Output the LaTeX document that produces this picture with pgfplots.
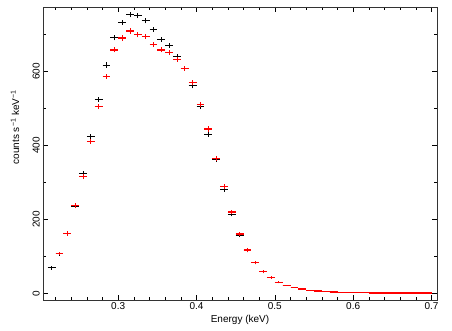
\documentclass[border=0pt]{standalone}
\usepackage{fontspec}
\setmainfont{Liberation Sans}
\usepackage{pgfplots}
\pgfplotsset{compat=1.18}
\usepackage{pgfplotstable}

% black spectrum: bin centre, rate, half bin width, error
\pgfplotstableread{
x y ex ey
0.215 69 0.005 5
0.225 107 0.005 5
0.235 162 0.005 6
0.245 236 0.005 6
0.255 325 0.005 7
0.265 424 0.005 7
0.275 525 0.005 7
0.285 617 0.005 7
0.295 691 0.005 7
0.305 733 0.005 7
0.315 753 0.005 7
0.325 751 0.005 7
0.335 737 0.005 7
0.345 714 0.005 7
0.355 687 0.005 7
0.365 670 0.005 7
0.375 641 0.005 7
0.385 608 0.005 7
0.395 561 0.005 7
0.405 505 0.005 7
0.415 430 0.005 7
0.425 362 0.005 6
0.435 280 0.005 6
0.445 214 0.005 6
0.455 157 0.005 5
0.465 116 0.005 5
0.475 82 0.005 4
0.485 58 0.005 4
0.495 42 0.005 3
0.505 29 0.005 2
0.515 22 0.005 1.5
0.525 16 0.005 1
0.535 12 0.005 0
0.545 8 0.005 0
0.555 6 0.005 0
0.565 4.5 0.005 0
0.575 3.5 0.005 0
0.585 2.7 0.005 0
0.595 2.1 0.005 0
0.605 1.7 0.005 0
0.615 1.4 0.005 0
0.625 1.2 0.005 0
0.635 1.1 0.005 0
0.645 1.0 0.005 0
0.655 0.9 0.005 0
0.665 0.9 0.005 0
0.675 0.8 0.005 0
0.685 0.8 0.005 0
0.695 0.7 0.005 0
}\blackdata

% red spectrum
\pgfplotstableread{
x y ex ey
0.225 108 0.005 5
0.235 162 0.005 6
0.245 237 0.005 6
0.255 316 0.005 7
0.265 411 0.005 7
0.275 505 0.005 7
0.285 587 0.005 7
0.295 658 0.005 7
0.305 690 0.005 7
0.315 709 0.005 7
0.325 699 0.005 7
0.335 695 0.005 7
0.345 673 0.005 7
0.355 658 0.005 7
0.365 651 0.005 7
0.375 633 0.005 7
0.385 608 0.005 7
0.395 569 0.005 7
0.405 510 0.005 7
0.415 444 0.005 7
0.425 364 0.005 6
0.435 289 0.005 6
0.445 220 0.005 6
0.455 160 0.005 5
0.465 117 0.005 5
0.475 83 0.005 4
0.485 59 0.005 4
0.495 43 0.005 3
0.505 30 0.005 2
0.515 22 0.005 1.5
0.525 16 0.005 1
0.535 12 0.005 0
0.545 8.5 0.005 0
0.555 6 0.005 0
0.565 4.5 0.005 0
0.575 3.5 0.005 0
0.585 2.7 0.005 0
0.595 2.1 0.005 0
0.605 1.7 0.005 0
0.615 1.4 0.005 0
0.625 1.2 0.005 0
0.635 1.1 0.005 0
0.645 1.0 0.005 0
0.655 0.9 0.005 0
0.665 0.9 0.005 0
0.675 0.8 0.005 0
0.685 0.8 0.005 0
0.695 0.7 0.005 0
}\reddata

\begin{document}
\begin{tikzpicture}
\begin{axis}[
  set layers,
  scale only axis,
  width=394pt, height=293pt,
  xmin=0.204, xmax=0.707,
  ymin=-18, ymax=774,
  xtick={0.3,0.4,0.5,0.6,0.7},
  xticklabels={0.3,0.4,0.5,0.6,0.7},
  minor xtick={0.22,0.24,0.26,0.28,0.32,0.34,0.36,0.38,0.42,0.44,0.46,0.48,0.52,0.54,0.56,0.58,0.62,0.64,0.66,0.68},
  ytick={0,200,400,600},
  minor ytick={100,300,500,700},
  tick align=inside,
  major tick length=5pt,
  minor tick length=3pt,
  tick style={line width=0.7pt, black},
  axis line style={line width=0.8pt, black!80},
  /pgf/number format/assume math mode=true,
  font=\fontsize{10}{12}\selectfont,
  yticklabel style={rotate=90, anchor=south, inner sep=3pt},
  xticklabel style={inner sep=2.5pt},
  every axis x label/.style={at={(axis description cs:0.5,-0.068)}, anchor=center},
  every axis y label/.style={at={(axis description cs:-0.071,0.59)}, rotate=90, anchor=center},
  xlabel={Energy (keV)},
  ylabel={counts s\textsuperscript{−1} keV\textsuperscript{−1}},
  clip=false,
]
\addplot[black, line width=1.0pt, mark=none, quiver={u=2*\thisrow{ex}, v=0}]
  table[x expr=\thisrow{x}-\thisrow{ex}, y=y] {\blackdata};
\addplot[black, line width=0.8pt, mark=none, quiver={u=0, v=2*\thisrow{ey}}]
  table[x=x, y expr=\thisrow{y}-\thisrow{ey}] {\blackdata};
\addplot[red, line width=1.3pt, mark=none, on layer=axis foreground, quiver={u=2*\thisrow{ex}, v=0}]
  table[x expr=\thisrow{x}-\thisrow{ex}, y=y] {\reddata};
\addplot[red, line width=0.8pt, mark=none, on layer=axis foreground, quiver={u=0, v=2*\thisrow{ey}}]
  table[x=x, y expr=\thisrow{y}-\thisrow{ey}] {\reddata};
\end{axis}
\pgfresetboundingbox
\path[use as bounding box] ([xshift=-43pt,yshift=-31pt]current axis.south west) rectangle ([xshift=15pt,yshift=7pt]current axis.north east);
\end{tikzpicture}
\end{document}
